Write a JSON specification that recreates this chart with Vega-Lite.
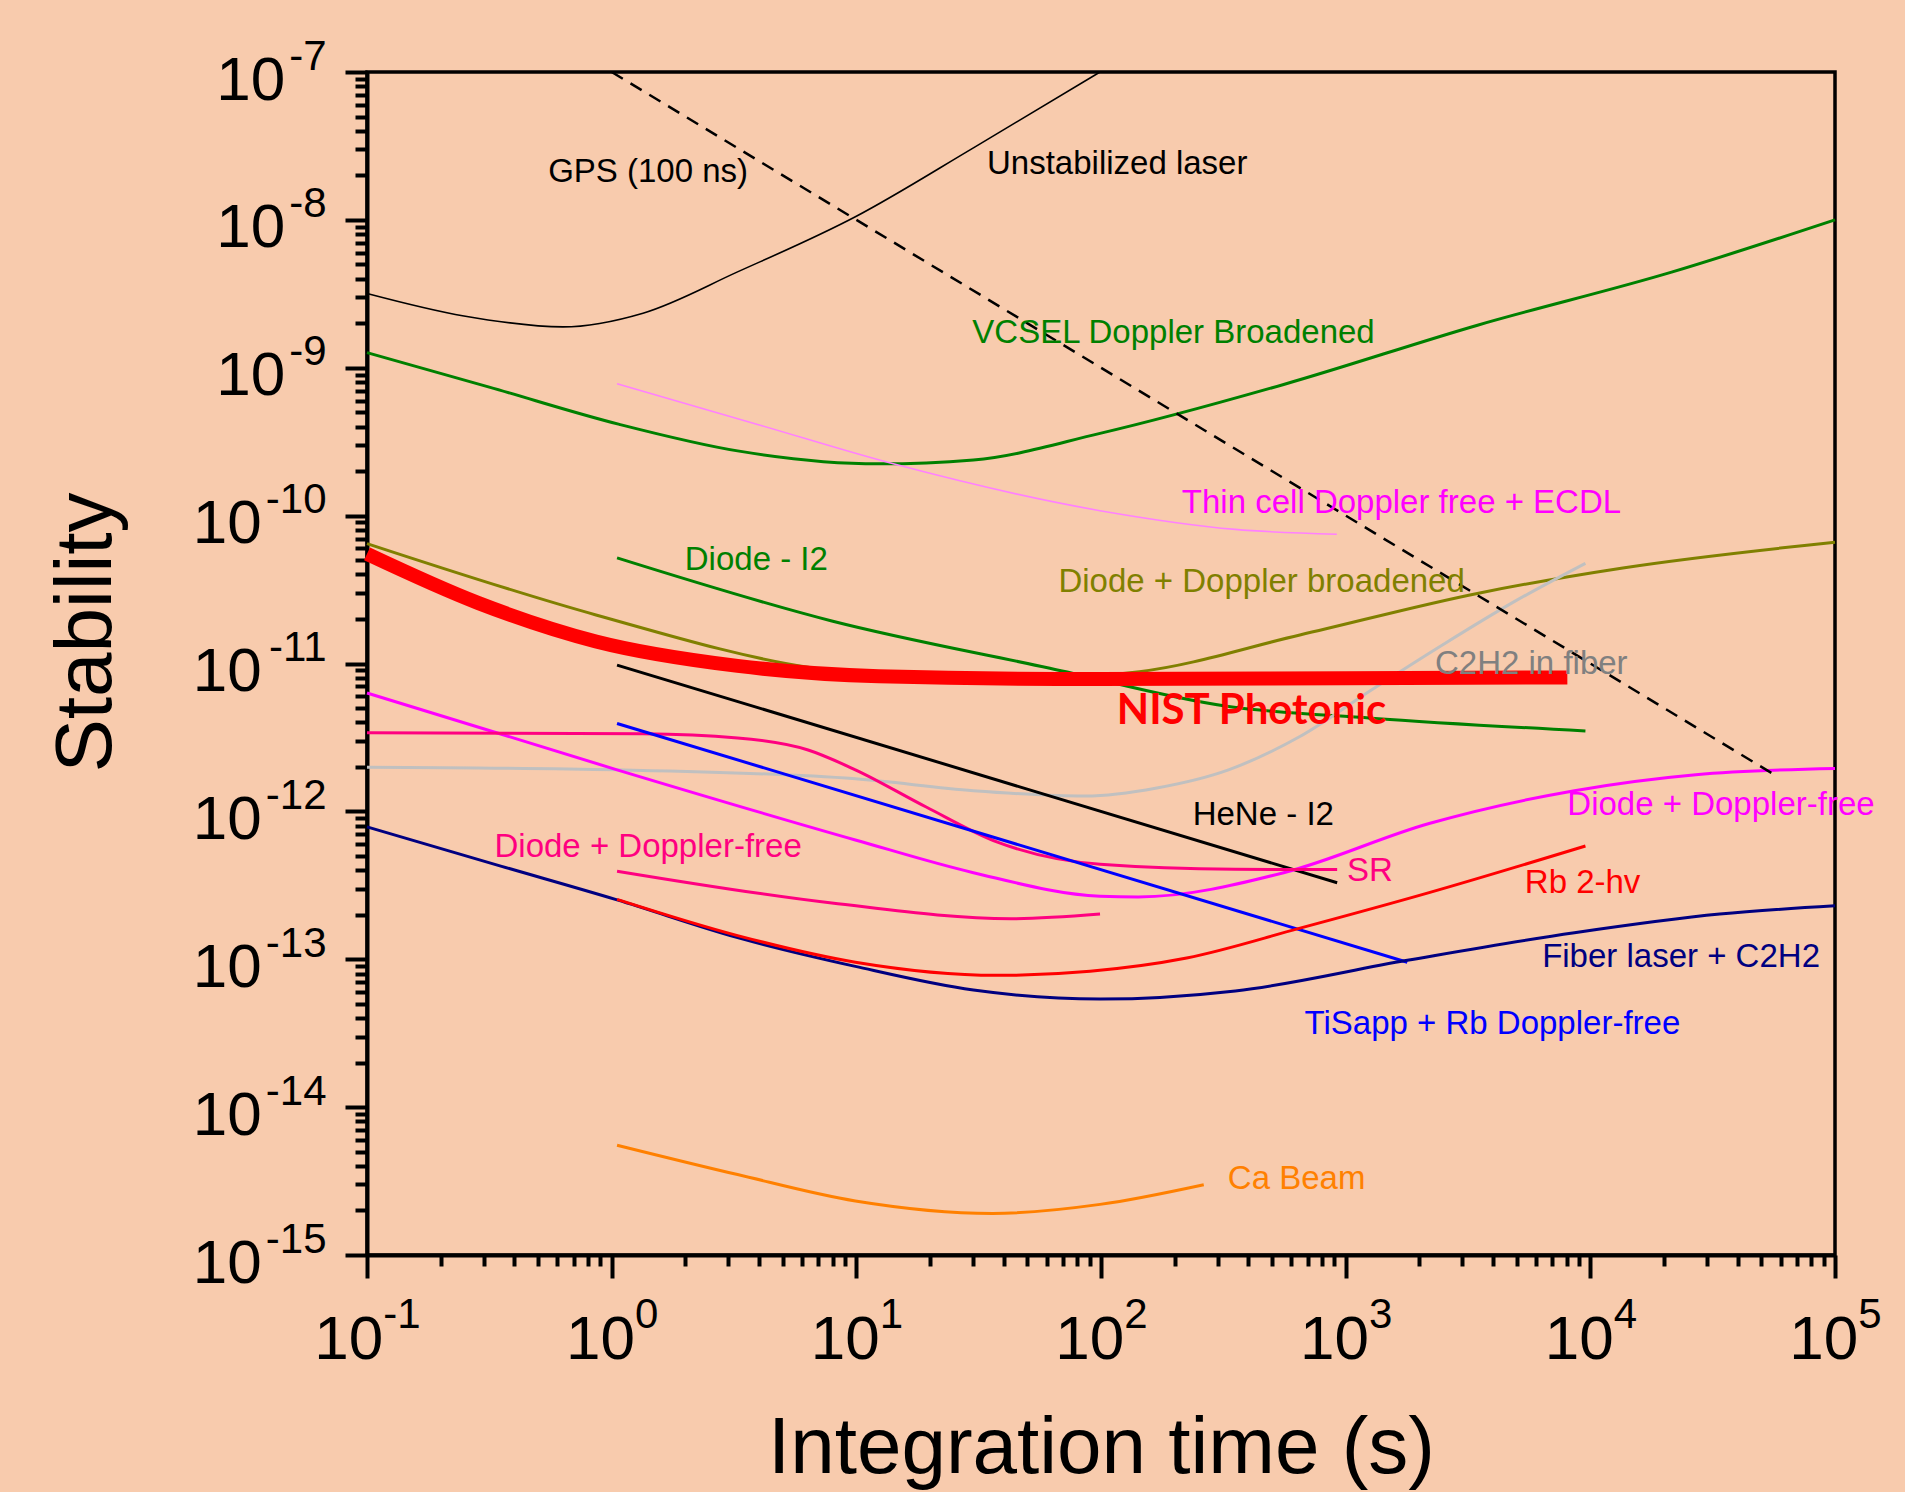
{
  "$schema": "https://vega.github.io/schema/vega-lite/v6.json",
  "width": 1468,
  "height": 1183,
  "autosize": {"type": "none"},
  "padding": {"left": 367, "top": 72, "right": 70, "bottom": 237},
  "background": "#F8CBAD",
  "config": {
    "view": {"stroke": "#000000", "strokeWidth": 3.5},
    "axis": {"grid": false, "labelFont": "Liberation Sans", "titleFont": "Liberation Sans", "labelColor": "#000000", "titleColor": "#000000", "tickColor": "#000000", "domainColor": "#000000", "titleFontWeight": "normal", "labelOverlap": false, "labelFlush": false, "labelBound": false}
  },
  "datasets": {
    "curves": [
      {"series": "Unstabilized laser", "tau": 0.1, "sigma": 3.18e-9},
      {"series": "Unstabilized laser", "tau": 0.249, "sigma": 2.24e-9},
      {"series": "Unstabilized laser", "tau": 0.632, "sigma": 1.89e-9},
      {"series": "Unstabilized laser", "tau": 1.343, "sigma": 2.34e-9},
      {"series": "Unstabilized laser", "tau": 3.27, "sigma": 4.45e-9},
      {"series": "Unstabilized laser", "tau": 9.91, "sigma": 1.05e-8},
      {"series": "Unstabilized laser", "tau": 30.1, "sigma": 3.07e-8},
      {"series": "Unstabilized laser", "tau": 99.1, "sigma": 1.0e-7},
      {"series": "GPS", "tau": 1, "sigma": 1e-7},
      {"series": "GPS", "tau": 56200, "sigma": 1.78e-12},
      {"series": "VCSEL", "tau": 0.1, "sigma": 1.265e-9},
      {"series": "VCSEL", "tau": 0.316, "sigma": 7.4e-10},
      {"series": "VCSEL", "tau": 1.076, "sigma": 4.14e-10},
      {"series": "VCSEL", "tau": 3.27, "sigma": 2.74e-10},
      {"series": "VCSEL", "tau": 12.36, "sigma": 2.24e-10},
      {"series": "VCSEL", "tau": 30.1, "sigma": 2.38e-10},
      {"series": "VCSEL", "tau": 99.1, "sigma": 3.6e-10},
      {"series": "VCSEL", "tau": 558, "sigma": 7.71e-10},
      {"series": "VCSEL", "tau": 3459, "sigma": 1.94e-9},
      {"series": "VCSEL", "tau": 21480, "sigma": 4.43e-9},
      {"series": "VCSEL", "tau": 100000, "sigma": 1.0e-8},
      {"series": "Thin cell", "tau": 1.052, "sigma": 7.8e-10},
      {"series": "Thin cell", "tau": 3.98, "sigma": 4.12e-10},
      {"series": "Thin cell", "tau": 14.16, "sigma": 2.24e-10},
      {"series": "Thin cell", "tau": 99.1, "sigma": 1.08e-10},
      {"series": "Thin cell", "tau": 354, "sigma": 8.07e-11},
      {"series": "Thin cell", "tau": 920, "sigma": 7.48e-11},
      {"series": "Diode - I2", "tau": 1.052, "sigma": 5.18e-11},
      {"series": "Diode - I2", "tau": 7.94, "sigma": 1.94e-11},
      {"series": "Diode - I2", "tau": 61.8, "sigma": 9.29e-12},
      {"series": "Diode - I2", "tau": 332, "sigma": 5.12e-12},
      {"series": "Diode - I2", "tau": 1274, "sigma": 4.27e-12},
      {"series": "Diode - I2", "tau": 9550, "sigma": 3.50e-12},
      {"series": "Diode + Doppler broadened", "tau": 0.1, "sigma": 6.47e-11},
      {"series": "Diode + Doppler broadened", "tau": 0.863, "sigma": 2.13e-11},
      {"series": "Diode + Doppler broadened", "tau": 6.34, "sigma": 9.44e-12},
      {"series": "Diode + Doppler broadened", "tau": 31.6, "sigma": 7.59e-12},
      {"series": "Diode + Doppler broadened", "tau": 143.5, "sigma": 8.81e-12},
      {"series": "Diode + Doppler broadened", "tau": 650, "sigma": 1.56e-11},
      {"series": "Diode + Doppler broadened", "tau": 3490, "sigma": 2.99e-11},
      {"series": "Diode + Doppler broadened", "tau": 13580, "sigma": 4.43e-11},
      {"series": "Diode + Doppler broadened", "tau": 100000, "sigma": 6.61e-11},
      {"series": "C2H2 in fiber", "tau": 0.1, "sigma": 1.99e-12},
      {"series": "C2H2 in fiber", "tau": 1.052, "sigma": 1.91e-12},
      {"series": "C2H2 in fiber", "tau": 9.91, "sigma": 1.66e-12},
      {"series": "C2H2 in fiber", "tau": 30.1, "sigma": 1.38e-12},
      {"series": "C2H2 in fiber", "tau": 86.5, "sigma": 1.27e-12},
      {"series": "C2H2 in fiber", "tau": 169, "sigma": 1.44e-12},
      {"series": "C2H2 in fiber", "tau": 332, "sigma": 1.91e-12},
      {"series": "C2H2 in fiber", "tau": 650, "sigma": 3.21e-12},
      {"series": "C2H2 in fiber", "tau": 1274, "sigma": 6.62e-12},
      {"series": "C2H2 in fiber", "tau": 2495, "sigma": 1.34e-11},
      {"series": "C2H2 in fiber", "tau": 4887, "sigma": 2.62e-11},
      {"series": "C2H2 in fiber", "tau": 9550, "sigma": 4.76e-11},
      {"series": "HeNe - I2", "tau": 1.052, "sigma": 9.75e-12},
      {"series": "HeNe - I2", "tau": 923, "sigma": 3.29e-13},
      {"series": "Diode + Doppler-free (magenta)", "tau": 0.1, "sigma": 6.32e-12},
      {"series": "Diode + Doppler-free (magenta)", "tau": 1.052, "sigma": 1.91e-12},
      {"series": "Diode + Doppler-free (magenta)", "tau": 9.91, "sigma": 6.41e-13},
      {"series": "Diode + Doppler-free (magenta)", "tau": 30.1, "sigma": 3.85e-13},
      {"series": "Diode + Doppler-free (magenta)", "tau": 99.1, "sigma": 2.67e-13},
      {"series": "Diode + Doppler-free (magenta)", "tau": 142, "sigma": 2.64e-13},
      {"series": "Diode + Doppler-free (magenta)", "tau": 558, "sigma": 3.85e-13},
      {"series": "Diode + Doppler-free (magenta)", "tau": 2193, "sigma": 8.28e-13},
      {"series": "Diode + Doppler-free (magenta)", "tau": 8610, "sigma": 1.38e-12},
      {"series": "Diode + Doppler-free (magenta)", "tau": 26980, "sigma": 1.77e-12},
      {"series": "Diode + Doppler-free (magenta)", "tau": 100000, "sigma": 1.95e-12},
      {"series": "SR", "tau": 0.1, "sigma": 3.40e-12},
      {"series": "SR", "tau": 1.343, "sigma": 3.35e-12},
      {"series": "SR", "tau": 3.27, "sigma": 3.14e-12},
      {"series": "SR", "tau": 6.35, "sigma": 2.60e-12},
      {"series": "SR", "tau": 9.91, "sigma": 1.91e-12},
      {"series": "SR", "tau": 19.3, "sigma": 1.07e-12},
      {"series": "SR", "tau": 37.5, "sigma": 6.22e-13},
      {"series": "SR", "tau": 99.1, "sigma": 4.39e-13},
      {"series": "SR", "tau": 354, "sigma": 4.06e-13},
      {"series": "SR", "tau": 923, "sigma": 4.04e-13},
      {"series": "Diode + Doppler-free (pink)", "tau": 1.052, "sigma": 3.94e-13},
      {"series": "Diode + Doppler-free (pink)", "tau": 7.94, "sigma": 2.40e-13},
      {"series": "Diode + Doppler-free (pink)", "tau": 42.9, "sigma": 1.88e-13},
      {"series": "Diode + Doppler-free (pink)", "tau": 99.1, "sigma": 2.02e-13},
      {"series": "TiSapp", "tau": 1.052, "sigma": 3.93e-12},
      {"series": "TiSapp", "tau": 1786, "sigma": 9.55e-14},
      {"series": "Fiber laser + C2H2", "tau": 0.1, "sigma": 7.85e-13},
      {"series": "Fiber laser + C2H2", "tau": 0.355, "sigma": 4.25e-13},
      {"series": "Fiber laser + C2H2", "tau": 1.052, "sigma": 2.52e-13},
      {"series": "Fiber laser + C2H2", "tau": 3.27, "sigma": 1.40e-13},
      {"series": "Fiber laser + C2H2", "tau": 9.91, "sigma": 8.95e-14},
      {"series": "Fiber laser + C2H2", "tau": 30.1, "sigma": 6.19e-14},
      {"series": "Fiber laser + C2H2", "tau": 99.1, "sigma": 5.38e-14},
      {"series": "Fiber laser + C2H2", "tau": 354, "sigma": 6.11e-14},
      {"series": "Fiber laser + C2H2", "tau": 1786, "sigma": 9.84e-14},
      {"series": "Fiber laser + C2H2", "tau": 8610, "sigma": 1.51e-13},
      {"series": "Fiber laser + C2H2", "tau": 33810, "sigma": 2.02e-13},
      {"series": "Fiber laser + C2H2", "tau": 100000, "sigma": 2.30e-13},
      {"series": "Rb 2-hv", "tau": 1.052, "sigma": 2.54e-13},
      {"series": "Rb 2-hv", "tau": 3.27, "sigma": 1.445e-13},
      {"series": "Rb 2-hv", "tau": 9.91, "sigma": 9.55e-14},
      {"series": "Rb 2-hv", "tau": 37.5, "sigma": 7.78e-14},
      {"series": "Rb 2-hv", "tau": 90.2, "sigma": 8.30e-14},
      {"series": "Rb 2-hv", "tau": 224, "sigma": 1.02e-13},
      {"series": "Rb 2-hv", "tau": 640, "sigma": 1.61e-13},
      {"series": "Rb 2-hv", "tau": 2193, "sigma": 2.82e-13},
      {"series": "Rb 2-hv", "tau": 9550, "sigma": 5.83e-13},
      {"series": "Ca Beam", "tau": 1.052, "sigma": 5.53e-15},
      {"series": "Ca Beam", "tau": 3.27, "sigma": 3.50e-15},
      {"series": "Ca Beam", "tau": 9.91, "sigma": 2.32e-15},
      {"series": "Ca Beam", "tau": 36.0, "sigma": 1.91e-15},
      {"series": "Ca Beam", "tau": 99.1, "sigma": 2.20e-15},
      {"series": "Ca Beam", "tau": 263, "sigma": 2.99e-15},
      {"series": "NIST Photonic", "tau": 0.1, "sigma": 5.51e-11},
      {"series": "NIST Photonic", "tau": 0.284, "sigma": 2.57e-11},
      {"series": "NIST Photonic", "tau": 0.863, "sigma": 1.41e-11},
      {"series": "NIST Photonic", "tau": 3.27, "sigma": 9.64e-12},
      {"series": "NIST Photonic", "tau": 12.36, "sigma": 8.2e-12},
      {"series": "NIST Photonic", "tau": 99.1, "sigma": 7.85e-12},
      {"series": "NIST Photonic", "tau": 1000, "sigma": 7.95e-12},
      {"series": "NIST Photonic", "tau": 8054, "sigma": 8.05e-12}
    ],
    "labels": [
      {"series": "GPS", "label": "GPS (100 ns)", "tau": 0.55, "sigma": 2.11e-8},
      {"series": "Unstabilized laser", "label": "Unstabilized laser", "tau": 34.2, "sigma": 2.39e-8},
      {"series": "VCSEL", "label": "VCSEL Doppler Broadened", "tau": 29.8, "sigma": 1.71e-9},
      {"series": "Thin cell", "label": "Thin cell Doppler free + ECDL", "tau": 214, "sigma": 1.22e-10},
      {"series": "Diode - I2", "label": "Diode - I2", "tau": 1.99, "sigma": 5.01e-11},
      {"series": "Diode + Doppler broadened", "label": "Diode + Doppler broadened", "tau": 67, "sigma": 3.53e-11},
      {"series": "C2H2 in fiber", "label": "C2H2 in fiber", "tau": 2318, "sigma": 9.86e-12},
      {"series": "NIST Photonic", "label": "NIST Photonic", "tau": 116, "sigma": 4.75e-12},
      {"series": "HeNe - I2", "label": "HeNe - I2", "tau": 237, "sigma": 9.4e-13},
      {"series": "SR", "label": "SR", "tau": 1012, "sigma": 3.98e-13},
      {"series": "Diode + Doppler-free (magenta)", "label": "Diode + Doppler-free", "tau": 8054, "sigma": 1.10e-12},
      {"series": "Rb 2-hv", "label": "Rb 2-hv", "tau": 5397, "sigma": 3.29e-13},
      {"series": "Fiber laser + C2H2", "label": "Fiber laser + C2H2", "tau": 6353, "sigma": 1.03e-13},
      {"series": "TiSapp", "label": "TiSapp + Rb Doppler-free", "tau": 679, "sigma": 3.67e-14},
      {"series": "Diode + Doppler-free (pink)", "label": "Diode + Doppler-free", "tau": 0.332, "sigma": 5.73e-13},
      {"series": "Ca Beam", "label": "Ca Beam", "tau": 330, "sigma": 3.29e-15}
    ]
  },
  "layer": [
    {
      "data": {"name": "curves"},
      "transform": [{"filter": {"field": "series", "oneOf": ["VCSEL", "Diode - I2", "Diode + Doppler broadened", "C2H2 in fiber", "HeNe - I2", "Diode + Doppler-free (magenta)", "SR", "Diode + Doppler-free (pink)", "TiSapp", "Fiber laser + C2H2", "Rb 2-hv", "Ca Beam"]}}],
      "mark": {"type": "line", "strokeWidth": 3, "interpolate": "monotone"},
      "encoding": {
        "x": {"field": "tau", "type": "quantitative", "scale": {"type": "log", "domain": [0.1, 100000]},
          "axis": {"orient": "bottom", "values": [0.1, 1, 10, 100, 1000, 10000, 100000], "labels": false, "tickSize": 23, "tickWidth": 4, "domainWidth": 4, "title": "Integration time (s)", "titleFontSize": 80, "titleY": 154}},
        "y": {"field": "sigma", "type": "quantitative", "scale": {"type": "log", "domain": [1e-15, 1e-7]},
          "axis": {"orient": "left", "values": [1e-15, 1e-14, 1e-13, 1e-12, 1e-11, 1e-10, 1e-9, 1e-8, 1e-7], "labels": false, "tickSize": 22, "tickWidth": 4, "domainWidth": 4, "title": "Stability", "titleFontSize": 80, "titleX": -240, "titleY": 560}},
        "color": {"field": "series", "type": "nominal", "legend": null,
          "scale": {"domain": ["VCSEL", "Diode - I2", "Diode + Doppler broadened", "C2H2 in fiber", "HeNe - I2", "Diode + Doppler-free (magenta)", "SR", "Diode + Doppler-free (pink)", "TiSapp", "Fiber laser + C2H2", "Rb 2-hv", "Ca Beam"],
                    "range": ["#008000", "#008000", "#808000", "#C0C0C0", "#000000", "#FF00FF", "#FF0080", "#FF0080", "#0000FF", "#000080", "#FF0000", "#FF8000"]}}
      }
    },
    {
      "data": {"name": "curves"},
      "transform": [{"filter": {"field": "series", "oneOf": ["Unstabilized laser", "Thin cell"]}}],
      "mark": {"type": "line", "strokeWidth": 1.6, "interpolate": "monotone"},
      "encoding": {
        "x": {"field": "tau", "type": "quantitative",
          "axis": {"orient": "bottom", "values": [0.1], "labelExpr": "'10'", "ticks": false, "tickSize": 0, "domain": false, "labelFontSize": 62, "labelAlign": "center", "labelBaseline": "top", "labelPadding": 54, "labelOffset": -18.7, "title": null}},
        "y": {"field": "sigma", "type": "quantitative",
          "axis": {"orient": "left", "values": [1e-9, 1e-8, 1e-7], "labelExpr": "'10'", "ticks": false, "tickSize": 0, "domain": false, "labelFontSize": 62, "labelAlign": "right", "labelBaseline": "middle", "labelPadding": 82.3, "labelOffset": 8, "title": null}},
        "color": {"field": "series", "type": "nominal", "legend": null, "scale": {"domain": ["Unstabilized laser", "Thin cell"], "range": ["#000000", "#FF80FF"]}}
      }
    },
    {
      "data": {"name": "curves"},
      "transform": [{"filter": {"field": "series", "equal": "GPS"}}],
      "mark": {"type": "line", "strokeWidth": 2.5, "strokeDash": [13, 9], "color": "#000000"},
      "encoding": {
        "x": {"field": "tau", "type": "quantitative",
          "axis": {"orient": "bottom", "values": [1, 10, 100, 1000, 10000, 100000], "labelExpr": "'10'", "ticks": false, "tickSize": 0, "domain": false, "labelFontSize": 62, "labelAlign": "center", "labelBaseline": "top", "labelPadding": 54, "labelOffset": -11.7, "title": null}},
        "y": {"field": "sigma", "type": "quantitative",
          "axis": {"orient": "left", "values": [1e-15, 1e-14, 1e-13, 1e-12, 1e-11, 1e-10], "labelExpr": "'10'", "ticks": false, "tickSize": 0, "domain": false, "labelFontSize": 62, "labelAlign": "right", "labelBaseline": "middle", "labelPadding": 105.7, "labelOffset": 8, "title": null}}
      }
    },
    {
      "data": {"name": "curves"},
      "transform": [{"filter": {"field": "series", "equal": "NIST Photonic"}}],
      "mark": {"type": "line", "strokeWidth": 14, "color": "#FF0000", "interpolate": "monotone", "strokeCap": "butt"},
      "encoding": {
        "x": {"field": "tau", "type": "quantitative",
          "axis": {"orient": "bottom", "values": [0.1, 1, 10, 100, 1000, 10000, 100000], "labelExpr": "'' + round(log(datum.value)/LN10)", "ticks": false, "tickSize": 0, "domain": false, "labelFontSize": 42, "labelAlign": "center", "labelBaseline": "top", "labelPadding": 39, "labelOffset": 34.5, "title": null}},
        "y": {"field": "sigma", "type": "quantitative",
          "axis": {"orient": "left", "values": [1e-15, 1e-14, 1e-13, 1e-12, 1e-11, 1e-10, 1e-9, 1e-8, 1e-7], "labelExpr": "'' + round(log(datum.value)/LN10)", "ticks": false, "tickSize": 0, "domain": false, "labelFontSize": 42, "labelAlign": "right", "labelBaseline": "middle", "labelPadding": 41, "labelOffset": -16, "title": null}}
      }
    },
    {
      "data": {"name": "labels"},
      "transform": [{"filter": {"field": "series", "oneOf": ["GPS", "Unstabilized laser", "VCSEL", "Thin cell", "Diode - I2", "Diode + Doppler broadened", "C2H2 in fiber", "HeNe - I2", "SR", "Diode + Doppler-free (magenta)", "Rb 2-hv", "Fiber laser + C2H2", "TiSapp", "Diode + Doppler-free (pink)", "Ca Beam"]}}],
      "mark": {"type": "text", "align": "left", "baseline": "middle", "font": "Liberation Sans", "fontSize": 33},
      "encoding": {
        "x": {"field": "tau", "type": "quantitative",
          "axis": {"orient": "bottom", "values": [0.2, 0.3, 0.4, 0.5, 0.6, 0.7, 0.8, 0.9, 2, 3, 4, 5, 6, 7, 8, 9, 20, 30, 40, 50, 60, 70, 80, 90, 200, 300, 400, 500, 600, 700, 800, 900, 2000, 3000, 4000, 5000, 6000, 7000, 8000, 9000, 20000, 30000, 40000, 50000, 60000, 70000, 80000, 90000], "labels": false, "domain": false, "title": null, "tickSize": 11, "tickWidth": 4}},
        "y": {"field": "sigma", "type": "quantitative",
          "axis": {"orient": "left", "values": [2e-15, 3e-15, 4e-15, 5e-15, 6e-15, 7e-15, 8e-15, 9e-15, 2e-14, 3e-14, 4e-14, 5e-14, 6e-14, 7e-14, 8e-14, 9e-14, 2e-13, 3e-13, 4e-13, 5e-13, 6e-13, 7e-13, 8e-13, 9e-13, 2e-12, 3e-12, 4e-12, 5e-12, 6e-12, 7e-12, 8e-12, 9e-12, 2e-11, 3e-11, 4e-11, 5e-11, 6e-11, 7e-11, 8e-11, 9e-11, 2e-10, 3e-10, 4e-10, 5e-10, 6e-10, 7e-10, 8e-10, 9e-10, 2e-9, 3e-9, 4e-9, 5e-9, 6e-9, 7e-9, 8e-9, 9e-9, 2e-8, 3e-8, 4e-8, 5e-8, 6e-8, 7e-8, 8e-8, 9e-8], "labels": false, "domain": false, "title": null, "tickSize": 12, "tickWidth": 4}},
        "text": {"field": "label", "type": "nominal"},
        "color": {"field": "series", "type": "nominal", "legend": null,
          "scale": {"domain": ["GPS", "Unstabilized laser", "VCSEL", "Thin cell", "Diode - I2", "Diode + Doppler broadened", "C2H2 in fiber", "HeNe - I2", "SR", "Diode + Doppler-free (magenta)", "Rb 2-hv", "Fiber laser + C2H2", "TiSapp", "Diode + Doppler-free (pink)", "Ca Beam"],
                    "range": ["#000000", "#000000", "#008000", "#FF00FF", "#008000", "#808000", "#808080", "#000000", "#FF0080", "#FF00FF", "#FF0000", "#000080", "#0000FF", "#FF0080", "#FF8000"]}}
      }
    },
    {
      "data": {"name": "labels"},
      "transform": [{"filter": {"field": "series", "equal": "NIST Photonic"}}],
      "mark": {"type": "text", "align": "left", "baseline": "middle", "font": "Lato", "fontWeight": "bold", "fontSize": 42, "color": "#FF0000"},
      "encoding": {
        "x": {"field": "tau", "type": "quantitative", "axis": null},
        "y": {"field": "sigma", "type": "quantitative", "axis": null},
        "text": {"field": "label", "type": "nominal"}
      }
    }
  ],
  "resolve": {"axis": {"x": "independent", "y": "independent"}, "scale": {"color": "independent"}}
}
